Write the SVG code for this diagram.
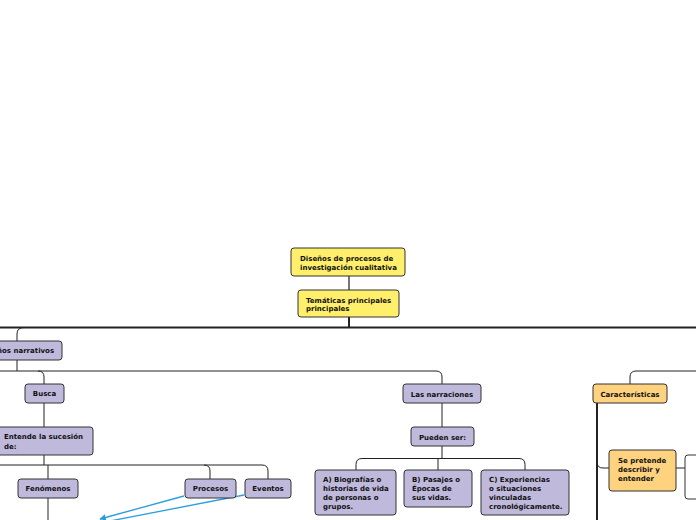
<svg xmlns="http://www.w3.org/2000/svg" width="696" height="520" viewBox="0 0 696 520">
<style>
.n rect{stroke:#333;stroke-width:1}
.lav rect{fill:#bfb9dc}
.yel rect{fill:#ffef6a}
.org rect{fill:#ffd27f}
.wht rect{fill:#fff}
text{font-family:"DejaVu Sans",Verdana,sans-serif;font-weight:bold;font-size:7px;fill:#111}
.c{text-anchor:middle}
#connectors path{fill:none;stroke:#222;stroke-width:1}
#connectors .thick{stroke-width:2}
#connectors .grey{stroke:#777;stroke-width:2}
#connectors .blue{stroke:#2a9de0;stroke-width:1.3}
</style>
<defs>
<marker id="arr" viewBox="0 0 10 10" refX="9" refY="5" markerWidth="5" markerHeight="5" orient="auto-start-reverse">
<path d="M0,0 L10,5 L0,10 z" fill="#2a9de0"/>
</marker>
</defs>
<rect width="696" height="520" fill="#fff"/>
<g id="connectors">
<path class="grey" d="M349,276 V290"/>
<path class="thick" d="M349,317 V327.5"/>
<path class="thick" d="M0,327.5 H696"/>
<path d="M24,327.5 Q17,327.5 17,334 V341"/>
<path d="M17,360 V371"/>
<path d="M0,371 H436 Q442,371 442,377 V384"/>
<path d="M38,371 Q44,371 44,377 V384"/>
<path d="M44,403 V427"/>
<path d="M44,455 V465"/>
<path d="M0,465 H204 Q210,465 210,471 V479"/>
<path d="M204,465 H262 Q268,465 268,471 V479"/>
<path d="M48,465 V479"/>
<path d="M48,498 V520"/>
<path d="M442,403 V427"/>
<path d="M442,446 V458.5"/>
<path d="M356,470 V464.5 Q356,458.5 362,458.5 H519 Q525,458.5 525,464.5 V470"/>
<path d="M438,458.5 V470"/>
<path d="M630,384 V377 Q630,371 636,371 H696"/>
<path class="thick" d="M597,403 V520"/>
<path d="M597,462 Q597,468 603,468 H609"/>
<path d="M676,468 H685"/>
<path class="blue" d="M184,496 L100,519" marker-end="url(#arr)"/>
<path class="blue" d="M244,495 L110,521"/>
</g>
<g id="n-disenos" class="n yel">
<rect x="291" y="248" width="114" height="28" rx="3"/>
<text x="300" y="260.5">Diseños de procesos de</text>
<text x="300" y="270">investigación cualitativa</text>
</g>
<g id="n-tematicas" class="n yel">
<rect x="298" y="290" width="101" height="27" rx="3"/>
<text x="306" y="302.5">Temáticas principales</text>
<text x="306" y="311">principales</text>
</g>
<g id="n-narrativos" class="n lav">
<rect x="-28" y="341" width="90" height="19" rx="3"/>
<text x="17" y="353" class="c">Diseños narrativos</text>
</g>
<g id="n-busca" class="n lav">
<rect x="25" y="384" width="39" height="19" rx="3"/>
<text x="44.5" y="396" class="c">Busca</text>
</g>
<g id="n-entende" class="n lav">
<rect x="-5" y="427" width="98" height="28" rx="3"/>
<text x="4" y="439">Entende la sucesión</text>
<text x="4" y="448.5">de:</text>
</g>
<g id="n-fenomenos" class="n lav">
<rect x="18" y="479" width="60" height="19" rx="3"/>
<text x="48" y="491" class="c">Fenómenos</text>
</g>
<g id="n-procesos" class="n lav">
<rect x="185" y="479" width="51" height="19" rx="3"/>
<text x="210.5" y="491" class="c">Procesos</text>
</g>
<g id="n-eventos" class="n lav">
<rect x="245" y="479" width="46" height="19" rx="3"/>
<text x="268" y="491" class="c">Eventos</text>
</g>
<g id="n-narraciones" class="n lav">
<rect x="403" y="384" width="78" height="19" rx="3"/>
<text x="442" y="397" class="c">Las narraciones</text>
</g>
<g id="n-pueden" class="n lav">
<rect x="411" y="427" width="63" height="19" rx="3"/>
<text x="442.5" y="440" class="c">Pueden ser:</text>
</g>
<g id="n-a" class="n lav">
<rect x="315" y="470" width="81" height="45" rx="3"/>
<text x="323" y="482">A) Biografías o</text>
<text x="323" y="491">historias de vida</text>
<text x="323" y="500">de personas o</text>
<text x="323" y="509">grupos.</text>
</g>
<g id="n-b" class="n lav">
<rect x="404" y="470" width="68" height="37" rx="3"/>
<text x="412" y="482">B) Pasajes o</text>
<text x="412" y="491">Épocas de</text>
<text x="412" y="500">sus vidas.</text>
</g>
<g id="n-c" class="n lav">
<rect x="481" y="470" width="88" height="45" rx="3"/>
<text x="489" y="482">C) Experiencias</text>
<text x="489" y="491">o situaciones</text>
<text x="489" y="500">vinculadas</text>
<text x="489" y="509">cronológicamente.</text>
</g>
<g id="n-caracteristicas" class="n org">
<rect x="593" y="384" width="74" height="19" rx="3"/>
<text x="630" y="397" class="c">Características</text>
</g>
<g id="n-sepretende" class="n org">
<rect x="609" y="450" width="67" height="41" rx="3"/>
<text x="618" y="462.5">Se pretende</text>
<text x="618" y="471.5">describir y</text>
<text x="618" y="480.5">entender</text>
</g>
<g id="n-right" class="n wht">
<rect x="685" y="455" width="40" height="44" rx="3"/>
</g>
</svg>
